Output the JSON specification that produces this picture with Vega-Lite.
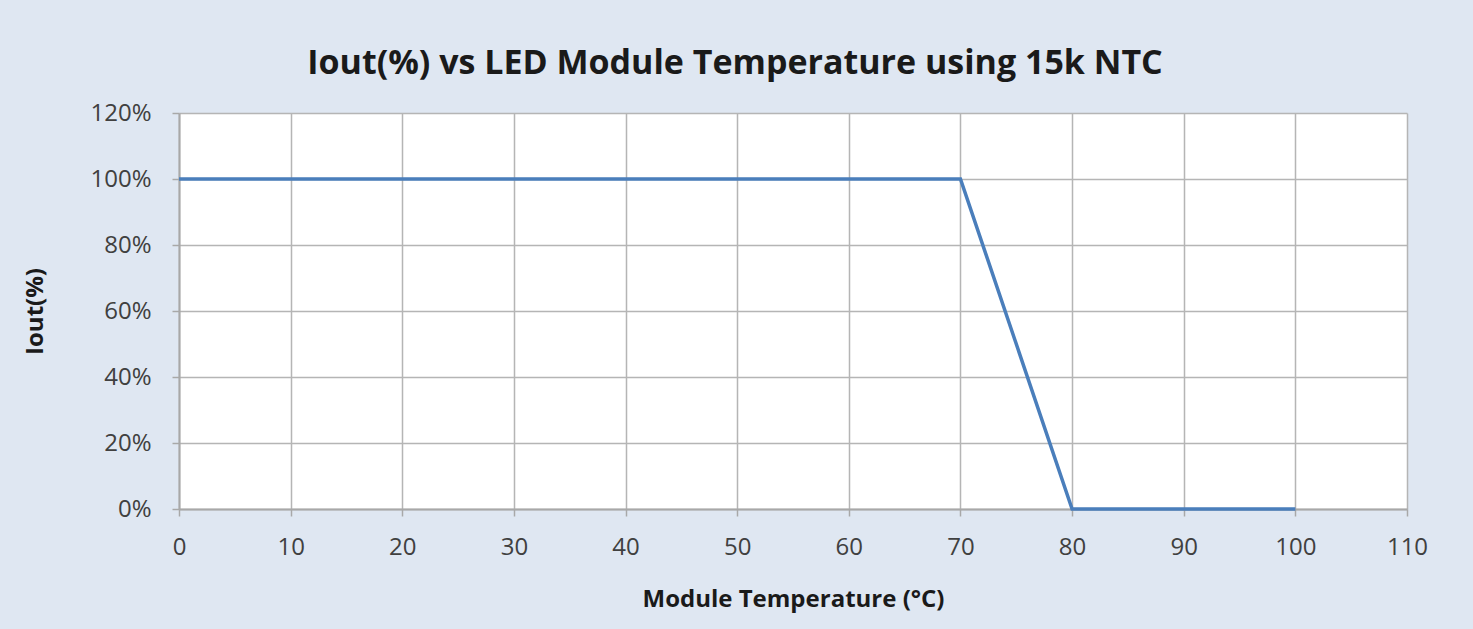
{
  "$schema": "https://vega.github.io/schema/vega-lite/v6.json",
  "width": 1228,
  "height": 396,
  "autosize": {"type": "none"},
  "padding": {"left": 179, "top": 113, "right": 66, "bottom": 120},
  "background": "#dfe7f2",
  "title": {
    "text": "Iout(%) vs LED Module Temperature using 15k NTC",
    "anchor": "middle",
    "font": "Open Sans",
    "fontSize": 34,
    "fontWeight": "bold",
    "color": "#1a1a1a",
    "offset": 20,
    "dx": -58
  },
  "config": {
    "view": {"fill": "white", "stroke": null},
    "axis": {
      "labelFont": "Open Sans",
      "labelFontSize": 24,
      "labelColor": "#404040",
      "titleFont": "Open Sans",
      "titleFontSize": 24,
      "titleFontWeight": "bold",
      "titleColor": "#1a1a1a",
      "gridColor": "#b5b5b5",
      "gridWidth": 1.5,
      "gridOpacity": 1,
      "domainColor": "#a8a8a8",
      "domainWidth": 2,
      "tickColor": "#a8a8a8",
      "tickWidth": 1.5,
      "tickSize": 7
    }
  },
  "data": {
    "values": [
      {"temp": 0, "iout": 1},
      {"temp": 10, "iout": 1},
      {"temp": 20, "iout": 1},
      {"temp": 30, "iout": 1},
      {"temp": 40, "iout": 1},
      {"temp": 50, "iout": 1},
      {"temp": 60, "iout": 1},
      {"temp": 70, "iout": 1},
      {"temp": 80, "iout": 0},
      {"temp": 90, "iout": 0},
      {"temp": 100, "iout": 0}
    ]
  },
  "mark": {"type": "line", "color": "#4a7ebb", "strokeWidth": 3.5},
  "encoding": {
    "x": {
      "field": "temp",
      "type": "quantitative",
      "scale": {"domain": [0, 110], "nice": false, "zero": false},
      "axis": {
        "title": "Module Temperature (°C)",
        "values": [0, 10, 20, 30, 40, 50, 60, 70, 80, 90, 100, 110],
        "labelPadding": 19,
        "titlePadding": 28,
        "labelFlush": false
      }
    },
    "y": {
      "field": "iout",
      "type": "quantitative",
      "scale": {"domain": [0, 1.2], "nice": false},
      "axis": {
        "title": "Iout(%)",
        "format": ".0%",
        "values": [0, 0.2, 0.4, 0.6, 0.8, 1.0, 1.2],
        "labelPadding": 21,
        "titlePadding": 42,
        "labelFlush": false
      }
    }
  }
}
